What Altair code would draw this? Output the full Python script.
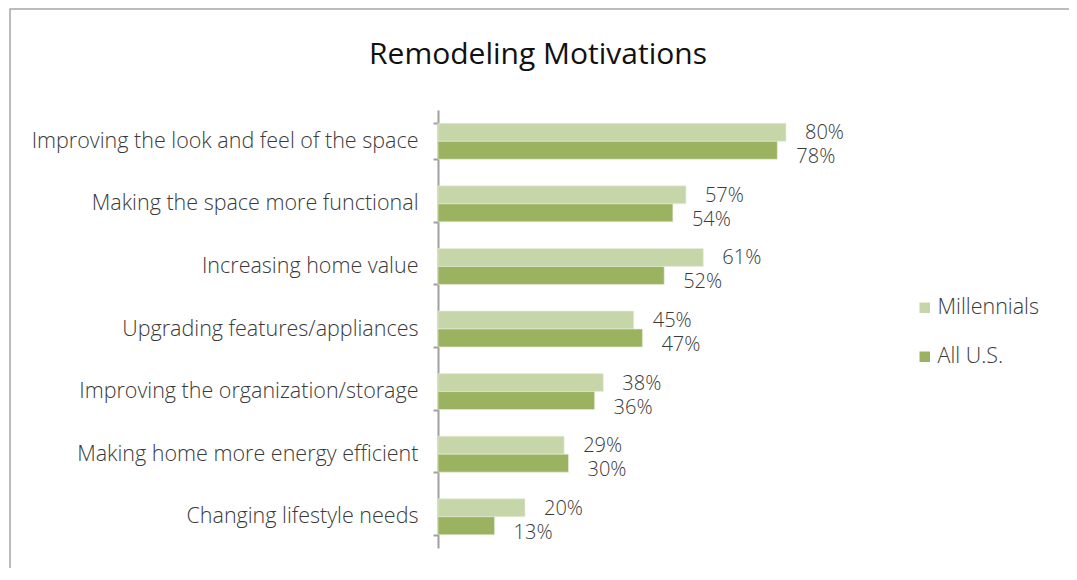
import altair as alt
import pandas as pd

categories = [
    "Improving the look and feel of the space",
    "Making the space more functional",
    "Increasing home value",
    "Upgrading features/appliances",
    "Improving the organization/storage",
    "Making home more energy efficient",
    "Changing lifestyle needs",
]
series = ["Millennials", "All U.S."]
millennials = [80, 57, 61, 45, 38, 29, 20]
all_us = [78, 54, 52, 47, 36, 30, 13]
colors = ["#C6D6A9", "#9BB261"]
chart_title = "Remodeling Motivations"

rows = []
for c, m, a in zip(categories, millennials, all_us):
    rows.append({"cat": c, "series": "Millennials", "v": m, "label": f"{m}%"})
    rows.append({"cat": c, "series": "All U.S.", "v": a, "label": f"{a}%"})
df = pd.DataFrame(rows)

FONT = "Open Sans"
W, H = 435, 438

yscale = alt.Scale(domain=categories, paddingInner=0.4246, paddingOuter=0.2123)
xscale = alt.Scale(domain=[0, 100], nice=False)
offscale = alt.Scale(domain=series, paddingInner=0, paddingOuter=0)

base = alt.Chart(df)

bars = base.mark_bar(stroke="#E8EEDD", strokeWidth=0.6).encode(
    y=alt.Y("cat:N", scale=yscale, sort=categories, title=None,
            axis=alt.Axis(tickBand="extent", domainColor="#A0A0A0", domainWidth=2,
                          tickColor="#A0A0A0", tickWidth=2, tickSize=5,
                          labelFont=FONT, labelFontWeight=300, labelFontSize=21.5,
                          labelColor="#3A3A3A", labelPadding=15, labelLimit=500)),
    x=alt.X("v:Q", scale=xscale, axis=None),
    yOffset=alt.YOffset("series:N", sort=series, scale=offscale),
    color=alt.Color("series:N", sort=series,
                    scale=alt.Scale(domain=series, range=colors),
                    legend=alt.Legend(title=None, orient="none", legendX=476, legendY=187,
                                      symbolType="square", symbolSize=110, symbolStrokeWidth=0,
                                      labelFont=FONT, labelFontWeight=300, labelFontSize=21.5,
                                      labelColor="#3A3A3A", labelOffset=2, rowPadding=26,
                                      padding=0)),
)

def label_layer(name, dy):
    return base.transform_filter(alt.datum.series == name).mark_text(
        align="left", baseline="middle", dx=19, dy=dy, font=FONT, fontWeight=300,
        fontSize=20, color="#3A3A3A"
    ).encode(
        y=alt.Y("cat:N", scale=yscale, sort=categories),
        x=alt.X("v:Q", scale=xscale),
        yOffset=alt.YOffset("series:N", sort=series, scale=offscale),
        text="label:N",
    )

frame = alt.Chart(alt.Data(values=[{}])).mark_rect(
    fill=None, stroke="#A6A6A6", strokeWidth=1.5
).encode(
    x=alt.value(-428), x2=alt.value(700), y=alt.value(-101), y2=alt.value(600)
)

title = alt.Chart(alt.Data(values=[{"t": chart_title}])).mark_text(
    font=FONT, fontSize=30, fontWeight=400, color="#111111", align="center",
    baseline="alphabetic"
).encode(x=alt.value(100), y=alt.value(-46), text="t:N")

chart = alt.layer(frame, title, bars, label_layer("Millennials", 1), label_layer("All U.S.", 7)).properties(
    width=W, height=H,
    autosize=alt.AutoSizeParams(type="none"),
    padding={"left": 430, "top": 102, "right": 196, "bottom": 20},
    background="white",
).configure_view(strokeWidth=0, stroke="transparent")

chart.save("out.html", embed_options={"renderer": "svg", "actions": False})
